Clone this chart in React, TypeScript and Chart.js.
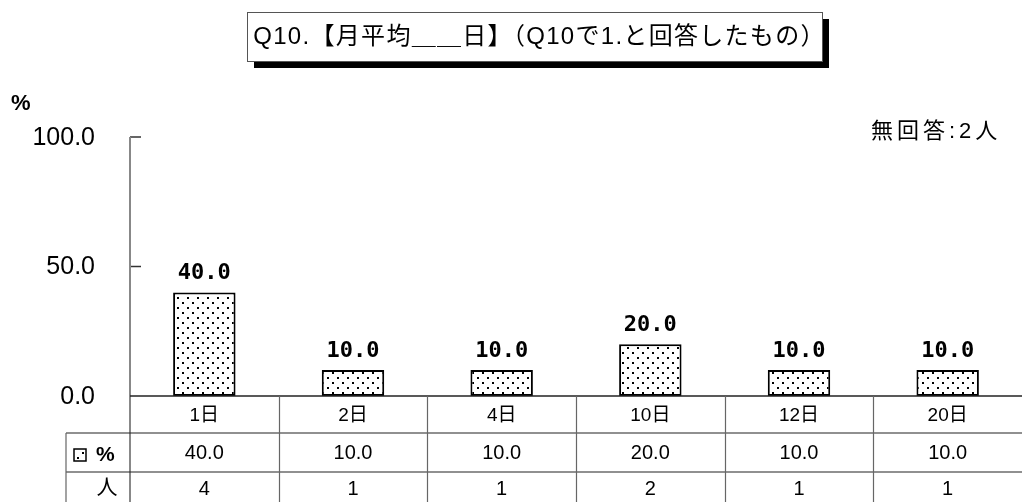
import React, { useEffect, useRef } from "react";
import { Chart, registerables } from "chart.js";

Chart.register(...registerables);

const categories = ["1日", "2日", "4日", "10日", "12日", "20日"];
const percentValues = [40.0, 10.0, 10.0, 20.0, 10.0, 10.0];
const counts = [4, 1, 1, 2, 1, 1];
const yTicks = [0, 50, 100];
const titleText = "Q10.【月平均＿＿日】（Q10で1.と回答したもの）";
const noAnswerText = "無回答:2人";
const unitLabel = "%";
const rowLabelPercent = "%";
const rowLabelCount = "人";

const FONT = "'Liberation Sans', 'Noto Sans CJK JP', sans-serif";

function makePattern(): CanvasPattern | string {
  const c = document.createElement("canvas");
  c.width = 10;
  c.height = 10;
  const g = c.getContext("2d");
  if (!g) return "#fff";
  g.fillStyle = "#ffffff";
  g.fillRect(0, 0, 10, 10);
  g.fillStyle = "#000000";
  g.fillRect(2, 2, 2, 2);
  g.fillRect(7, 7, 2, 2);
  const p = g.createPattern(c, "repeat");
  return p || "#fff";
}

export default function App() {
  const ref = useRef<HTMLCanvasElement | null>(null);

  useEffect(() => {
    document.body.style.margin = "0";
    const canvas = ref.current;
    if (!canvas) return;
    const pattern = makePattern();

    const overlay = {
      id: "overlay",
      afterDraw(chart: any) {
        const ctx = chart.ctx as CanvasRenderingContext2D;
        const area = chart.chartArea;
        const xs = chart.scales.x;
        const ys = chart.scales.y;
        const W = chart.width;
        const H = chart.height;
        ctx.save();

        // Title box with shadow
        const bx = 247, by = 12, bw = 575, bh = 49;
        ctx.fillStyle = "#000";
        ctx.fillRect(bx + 7, by + 7, bw, bh);
        ctx.fillStyle = "#fff";
        ctx.fillRect(bx, by, bw, bh);
        ctx.strokeStyle = "#555";
        ctx.lineWidth = 1;
        ctx.strokeRect(bx + 0.5, by + 0.5, bw, bh);
        ctx.fillStyle = "#000";
        ctx.font = `24px ${FONT}`;
        (ctx as any).letterSpacing = "1.3px";
        ctx.textAlign = "center";
        ctx.textBaseline = "middle";
        ctx.fillText(titleText, bx + bw / 2 + 5, by + bh / 2 + 1);

        // unit label
        (ctx as any).letterSpacing = "0px";
        ctx.font = `bold 22px ${FONT}`;
        ctx.textAlign = "left";
        ctx.fillText(unitLabel, 11, 104);

        // no answer
        ctx.font = `22px ${FONT}`;
        (ctx as any).letterSpacing = "4px";
        ctx.textAlign = "left";
        ctx.fillText(noAnswerText, 871, 132);
        (ctx as any).letterSpacing = "0px";

        // y ticks
        ctx.font = `25px ${FONT}`;
        ctx.textAlign = "right";
        for (const v of yTicks) {
          const y = ys.getPixelForValue(v);
          ctx.fillText(v.toFixed(1), 95, y + 1);
          if (v > 0) {
            ctx.strokeStyle = "#333";
            ctx.lineWidth = 1.5;
            ctx.beginPath();
            ctx.moveTo(area.left, y);
            ctx.lineTo(area.left + 11, y);
            ctx.stroke();
          }
        }

        // axis line
        ctx.strokeStyle = "#888";
        ctx.lineWidth = 2;
        ctx.beginPath();
        ctx.moveTo(area.left, ys.getPixelForValue(100));
        ctx.lineTo(area.left, H);
        ctx.stroke();

        // table
        const r0 = area.bottom;
        const r1 = 433;
        const r2 = 472;
        const tableLeft = 66;
        ctx.strokeStyle = "#222";
        ctx.lineWidth = 1.5;
        ctx.beginPath();
        ctx.moveTo(area.left, r0);
        ctx.lineTo(W, r0);
        ctx.stroke();
        ctx.lineWidth = 1.2;
        ctx.beginPath();
        ctx.moveTo(tableLeft, r1);
        ctx.lineTo(W, r1);
        ctx.moveTo(tableLeft, r2);
        ctx.lineTo(W, r2);
        ctx.stroke();
        ctx.strokeStyle = "#666";
        ctx.beginPath();
        ctx.moveTo(tableLeft, r1);
        ctx.lineTo(tableLeft, H);
        for (let i = 1; i < categories.length; i++) {
          const bxp = (xs.getPixelForValue(i - 1) + xs.getPixelForValue(i)) / 2;
          ctx.moveTo(Math.round(bxp) + 0.5, r0);
          ctx.lineTo(Math.round(bxp) + 0.5, H);
        }
        ctx.stroke();

        ctx.fillStyle = "#000";
        ctx.textAlign = "center";
        ctx.textBaseline = "middle";
        ctx.font = `19px ${FONT}`;
        categories.forEach((c, i) => {
          ctx.fillText(c, xs.getPixelForValue(i), (r0 + r1) / 2 + 1);
        });
        ctx.font = `20px ${FONT}`;
        percentValues.forEach((v, i) => {
          ctx.fillText(v.toFixed(1), xs.getPixelForValue(i), (r1 + r2) / 2 + 1);
        });
        counts.forEach((v, i) => {
          ctx.fillText(String(v), xs.getPixelForValue(i), (r2 + H) / 2 + 2);
        });

        // row labels
        ctx.fillStyle = pattern as any;
        ctx.fillRect(74, 449, 12, 12);
        ctx.strokeStyle = "#000";
        ctx.lineWidth = 1.5;
        ctx.strokeRect(74, 449, 12, 12);
        ctx.fillStyle = "#000";
        ctx.font = `bold 21px ${FONT}`;
        ctx.textAlign = "left";
        ctx.fillText(rowLabelPercent, 96, 455);
        ctx.font = `21px ${FONT}`;
        ctx.textAlign = "center";
        ctx.fillText(rowLabelCount, 107, 488);

        // data labels
        const meta = chart.getDatasetMeta(0);
        ctx.font = `bold 22px 'DejaVu Sans Mono', monospace`;
        ctx.textAlign = "center";
        ctx.textBaseline = "alphabetic";
        meta.data.forEach((bar: any, i: number) => {
          ctx.fillText(percentValues[i].toFixed(1), bar.x, bar.y - 13);
        });

        ctx.restore();
      },
    };

    const chart = new Chart(canvas, {
      type: "bar",
      data: {
        labels: categories,
        datasets: [
          {
            data: percentValues,
            backgroundColor: pattern as any,
            borderColor: "#000",
            borderWidth: 2,
            borderSkipped: false,
            categoryPercentage: 1,
            barPercentage: 0.42,
          },
        ],
      },
      options: {
        animation: false,
        responsive: false,
        devicePixelRatio: 1,
        layout: { padding: { left: 130, right: 0, top: 137, bottom: 106 } },
        plugins: { legend: { display: false }, tooltip: { enabled: false } },
        scales: {
          x: { display: false },
          y: { display: false, min: 0, max: 100 },
        },
      },
      plugins: [overlay],
    });
    return () => chart.destroy();
  }, []);

  return <canvas ref={ref} width={1022} height={502} style={{ display: "block" }} />;
}
